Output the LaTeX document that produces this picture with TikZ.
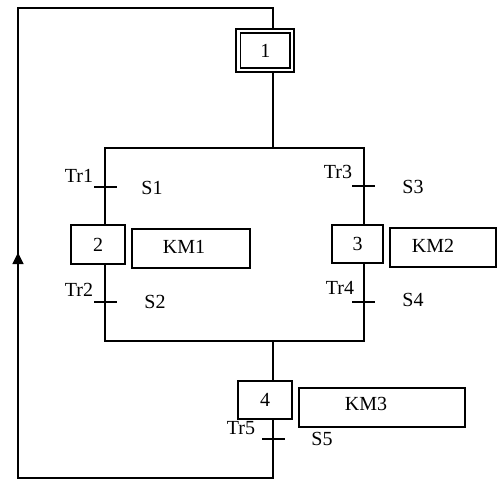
\documentclass[tikz,border=0pt]{standalone}
\usepackage{fontspec}
\setmainfont{Liberation Serif}
\usetikzlibrary{arrows.meta}

\tikzset{
  wire/.style={line width=1.3pt, line cap=rect},
  stepbox/.style={draw, line width=1.3pt, inner sep=0pt, font=\fontsize{20}{22}\selectfont},
  actbox/.style={draw, line width=1.3pt, inner sep=0pt},
  lbl/.style={inner sep=0pt, font=\fontsize{20}{22}\selectfont},
  tick/.style={line width=1.3pt},
}

\begin{document}
\begin{tikzpicture}[x=1pt, y=-1pt]
\useasboundingbox (0,0) rectangle (504,491);

% initial step (double frame)
\node[draw, line width=2pt, minimum width=58pt, minimum height=43pt, inner sep=0pt] (s1o) at (265,50.5) {};
\node[stepbox, minimum width=49.3pt, minimum height=35pt] (s1) at (265.3,50.5) {1};

% steps
\node[stepbox, minimum width=54pt, minimum height=39pt] (s2) at (98,244.5) {2};
\node[stepbox, minimum width=51pt, minimum height=38pt] (s3) at (357.5,244) {3};
\node[stepbox, minimum width=54pt, minimum height=38pt] (s4) at (265,400) {4};

% actions
\node[actbox, minimum width=118pt, minimum height=39pt] (a1) at (191,248.5) {};
\node[lbl] (a1t) at (184,247) {KM1};
\node[actbox, minimum width=106pt, minimum height=39pt] (a2) at (443,247.5) {};
\node[lbl] (a2t) at (433,246) {KM2};
\node[actbox, minimum width=166pt, minimum height=39pt] (a3) at (382,407.5) {};
\node[lbl] (a3t) at (366,404) {KM3};

% junction points
\coordinate (top) at (273,148);
\coordinate (divL) at (105,148);
\coordinate (divR) at (364,148);
\coordinate (conL) at (105,341);
\coordinate (conR) at (364,341);
\coordinate (bot) at (273,341);
\coordinate (t1) at (105,187);
\coordinate (t2) at (105,302);
\coordinate (t3) at (364,186);
\coordinate (t4) at (364,302);
\coordinate (t5) at (273,439);
\coordinate (cBR) at (273,478);
\coordinate (cBL) at (18,478);
\coordinate (cTL) at (18,8);
\coordinate (cTR) at (273,8);
\coordinate (tip) at (18,252.7);

% main flow
\draw[wire] (s1o.south -| top) -- (top);
\draw[wire] (divL) -- (divR);
\draw[wire] (divL) -- (s2.north -| divL);
\draw[wire] (s2.south -| divL) -- (conL);
\draw[wire] (divR) -- (s3.north -| divR);
\draw[wire] (s3.south -| divR) -- (conR);
\draw[wire] (conL) -- (conR);
\draw[wire] (bot) -- (s4.north -| bot);
\draw[wire] (s4.south -| bot) -- (t5);

% return loop
\draw[wire, line join=miter] (t5) -- (cBR) -- (cBL) -- (cTL) -- (cTR) -- (s1o.north -| cTR);
\draw[line width=1.3pt, -{Triangle[width=11pt, length=11.3pt]}] (cBL) -- (tip);

% transitions
\draw[tick] (t1) ++(-11,0) -- ++(23,0);
\draw[tick] (t2) ++(-11,0) -- ++(23,0);
\draw[tick] (t3) ++(-12,0) -- ++(23,0);
\draw[tick] (t4) ++(-12,0) -- ++(23,0);
\draw[tick] (t5) ++(-11,0) -- ++(23,0);

% transition labels and receptivities
\node[lbl] (l1) at (79,176) {Tr1};
\node[lbl] (r1) at (152,188) {S1};
\node[lbl] (l2) at (79,290) {Tr2};
\node[lbl] (r2) at (155,302) {S2};
\node[lbl] (l3) at (338,172) {Tr3};
\node[lbl] (r3) at (413,187) {S3};
\node[lbl] (l4) at (340,288) {Tr4};
\node[lbl] (r4) at (413,300) {S4};
\node[lbl] (l5) at (241,428) {Tr5};
\node[lbl] (r5) at (322,439) {S5};
\end{tikzpicture}
\end{document}
